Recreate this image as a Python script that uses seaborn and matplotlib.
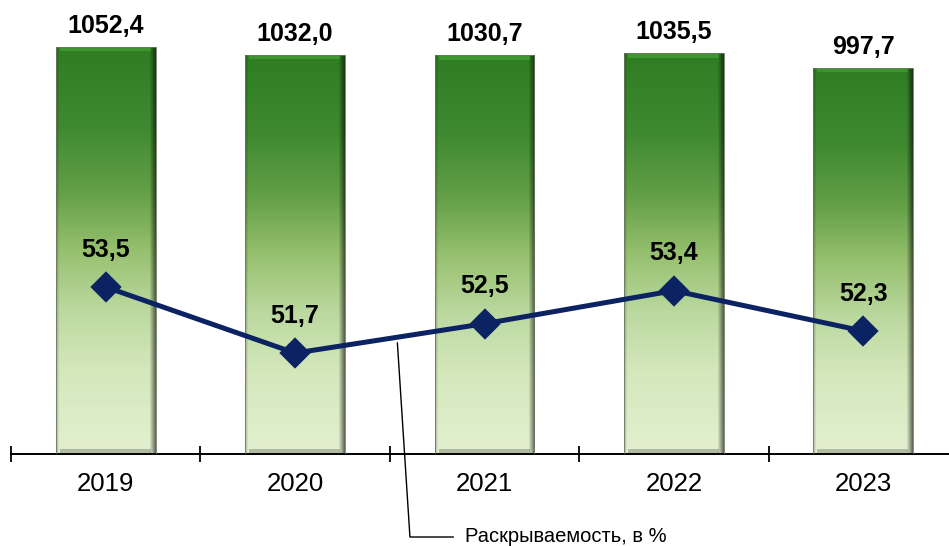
import numpy as np
import pandas as pd
import matplotlib
matplotlib.use("Agg")
import matplotlib.pyplot as plt
from matplotlib.colors import LinearSegmentedColormap
import seaborn as sns

years = ["2019", "2020", "2021", "2022", "2023"]
cases = [1052.4, 1032.0, 1030.7, 1035.5, 997.7]
rate = [53.5, 51.7, 52.5, 53.4, 52.3]
rate_name = "Раскрываемость, в %"

def fmt(v):
    return f"{v:.1f}".replace(".", ",")

sns.set_theme(style="white")
plt.rcParams["font.family"] = ["Liberation Sans", "DejaVu Sans"]

navy = "#0b2362"
grad = LinearSegmentedColormap.from_list(
    "bar", [(0.0, "#2f7c22"), (0.2, "#3f8a30"), (0.36, "#64a048"),
            (0.5, "#96c06e"), (0.65, "#bcd9a0"), (0.8, "#d4e8bc"),
            (1.0, "#e3f0d0")])

df = pd.DataFrame({"year": years, "cases": cases, "rate": rate})

fig = plt.figure(figsize=(9.49, 5.46), dpi=100)
ax = fig.add_axes([11 / 949, 92 / 546, 947 / 949, 454 / 546])
sns.barplot(data=df, x="year", y="cases", ax=ax, width=0.527,
            color="#4a8f35", saturation=1)

# gradient + soft bevel on each bar
for p in ax.patches:
    x0, w, h = p.get_x(), p.get_width(), p.get_height()
    rows, cols = 400, 100
    v = np.linspace(0, 1, rows)
    img = grad(v)[:, None, :3].repeat(cols, axis=1)
    u = np.linspace(0, 1, cols)
    shade = np.ones(cols)
    shade = np.minimum(shade, 0.78 + 0.22 * np.clip(u / 0.03, 0, 1))
    shade = np.minimum(shade, 0.45 + 0.55 * np.clip((1 - u) / 0.06, 0, 1))
    img = img * shade[None, :, None]
    img[:5, 4:-5] = np.clip(img[:5, 4:-5] * 1.15 + 0.03, 0, 1)
    img[-5:, 4:-5] = img[-5:, 4:-5] * 0.78
    im = ax.imshow(img, extent=[x0, x0 + w, 0, h], origin="upper",
                   aspect="auto", zorder=2)
    im.set_clip_path(p)
    p.set_facecolor("none")
    p.set_edgecolor("#6b7862")
    p.set_linewidth(0.6)
    p.set_zorder(3)

for i, v in enumerate(cases):
    ax.annotate(fmt(v), (i, v), xytext=(0, 15), textcoords="offset points",
                ha="center", va="center", fontsize=18, fontweight="bold",
                color="black")

ax.set_ylim(0, 1173)
ax.set_yticks([])
ax.set_xlabel("")
ax.set_ylabel("")
ax.set_xticks(np.arange(-0.5, 5, 1), minor=True)
ax.tick_params(axis="x", which="minor", direction="inout", length=11.5,
               width=1.3, color="black", bottom=True)
ax.tick_params(axis="x", which="major", length=0, pad=13, labelsize=18.5,
               labelcolor="black")
for s in ["left", "top", "right"]:
    ax.spines[s].set_visible(False)
ax.spines["bottom"].set_color("black")
ax.spines["bottom"].set_linewidth(1.4)

ax2 = ax.twinx()
sns.pointplot(data=df, x="year", y="rate", ax=ax2, color=navy, markers="D",
              markersize=13.5, linewidth=3.6, markeredgecolor=navy)
ax2.set_ylim(48.95, 61.32)
ax2.set_yticks([])
ax2.set_xlabel("")
ax2.set_ylabel("")
for s in ax2.spines.values():
    s.set_visible(False)

for i, v in enumerate(rate):
    ax2.annotate(fmt(v), (i, v), xytext=(0, 27), textcoords="offset points",
                 ha="center", va="center", fontsize=18, fontweight="bold",
                 color="black")

t = 0.54
ax2.annotate(rate_name, xy=(1 + t, rate[1] + t * (rate[2] - rate[1]) - 0.15),
             xytext=(465, 9), textcoords="figure pixels", ha="left",
             va="center", fontsize=14.5, color="black",
             arrowprops=dict(arrowstyle="-", color="black", lw=1.0,
                             shrinkA=6, shrinkB=0, relpos=(0, 0.5),
                             connectionstyle="angle,angleA=0,angleB=93.7,rad=0"),
             annotation_clip=False)

ax.set_xlim(-0.5, 4.5)
fig.savefig("out.png", dpi=100)
